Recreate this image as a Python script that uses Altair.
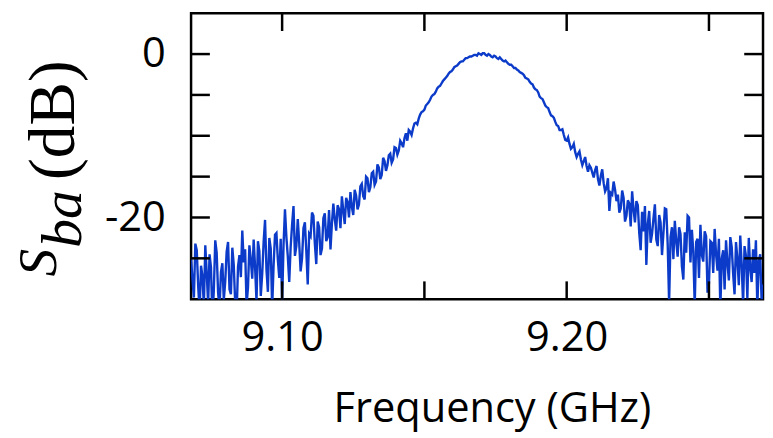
import altair as alt
import pandas as pd

# Measured S_ba (dB), sweep grid 9.068 GHz .. 9.269 GHz in 0.5 MHz steps
sba = [
    -25.1, -27.6, -29.8, -23.2, -24.0, -28.4, -31.5, -25.9, -27.2, -30.9, -23.4, -26.8, -30.6, -24.5, -26.1, -32.5, -28.9, -22.8, -24.3, -29.2,
    -31.2, -26.7, -25.6, -30.1, -27.9, -24.2, -23.0, -28.8, -29.4, -23.7, -25.8, -30.4, -32.0, -26.0, -24.6, -27.3, -21.6, -25.5, -23.9, -30.7,
    -28.6, -23.4, -25.2, -27.5, -22.7, -26.1, -30.3, -22.9, -24.1, -29.6, -26.9, -23.0, -20.3, -26.4, -29.1, -22.5, -23.8, -31.1, -25.9, -22.1,
    -21.9, -25.2, -27.4, -22.6, -30.5, -23.3, -19.0, -22.4, -24.8, -27.9, -23.6, -20.9, -18.6, -24.7, -23.5, -20.2, -23.1, -26.6, -25.0, -21.3,
    -20.6, -24.1, -28.2, -22.0, -22.3, -19.4, -19.8, -23.2, -25.7, -20.5, -21.2, -24.6, -23.8, -20.1, -19.5, -22.9, -22.4, -19.1, -23.9, -20.7,
    -18.3, -20.2, -21.6, -18.5, -19.0, -21.3, -17.4, -19.2, -20.8, -17.6, -18.1, -20.0, -16.9, -18.7, -19.7, -16.6, -17.3, -19.0, -18.4, -16.2,
    -15.9, -17.4, -17.8, -15.0, -15.2, -16.9, -16.3, -14.6, -14.4, -16.0, -15.6, -13.5, -13.9, -15.3, -14.8, -12.7, -13.1, -14.3, -13.6, -12.4,
    -12.2, -13.3, -12.9, -11.4, -11.5, -12.3, -11.8, -10.6, -10.9, -11.4, -10.3, -9.7, -10.6, -9.3, -9.5, -9.9, -9.1, -8.5, -8.4, -8.6,
    -7.9, -7.4, -7.1, -7.0, -6.8, -6.3, -6.1, -5.9, -5.6, -5.2, -5.0, -4.9, -4.6, -4.2, -4.0, -3.9, -3.6, -3.3, -3.1, -2.9,
    -2.7, -2.4, -2.2, -2.1, -1.9, -1.6, -1.5, -1.4, -1.2, -1.0, -0.9, -0.9, -0.7, -0.5, -0.5, -0.4, -0.3, -0.3, -0.2, -0.1,
    -0.1, -0.2, 0.1, 0.0, -0.1, 0.1, 0.1, -0.1, -0.2, 0.0, -0.1, -0.3, -0.4, -0.2, -0.3, -0.5, -0.6, -0.4, -0.6, -0.8,
    -0.9, -0.8, -1.0, -1.2, -1.3, -1.3, -1.5, -1.7, -1.7, -1.9, -2.0, -2.2, -2.3, -2.4, -2.6, -2.9, -3.0, -3.1, -3.4, -3.6,
    -3.7, -4.1, -4.3, -4.4, -4.7, -5.2, -5.4, -5.5, -5.9, -6.3, -6.5, -6.6, -7.1, -7.5, -7.6, -7.8, -8.3, -8.7, -8.8, -9.3,
    -9.3, -9.2, -9.9, -10.5, -10.6, -10.2, -11.0, -11.6, -11.4, -11.0, -12.0, -12.6, -12.2, -11.9, -12.9, -13.6, -13.1, -12.6, -13.7, -14.4,
    -13.6, -13.9, -14.5, -15.1, -14.2, -13.7, -15.3, -16.1, -14.9, -14.1, -15.8, -16.8, -16.4, -15.2, -19.2, -17.0, -17.2, -15.6, -16.6, -18.0,
    -17.2, -19.4, -18.9, -16.7, -17.6, -20.5, -19.8, -17.9, -18.3, -21.1, -16.8, -19.0, -20.6, -18.0, -18.5, -21.9, -24.0, -19.3, -21.7, -18.6,
    -25.8, -20.8, -19.2, -23.1, -22.0, -20.1, -18.4, -22.7, -23.5, -19.7, -20.6, -24.6, -21.9, -18.9, -19.0, -23.3, -30.5, -22.4, -21.2, -25.1,
    -20.4, -22.9, -24.8, -21.2, -22.0, -26.0, -27.6, -21.8, -24.3, -19.8, -20.0, -25.5, -21.5, -24.2, -30.8, -23.0, -22.6, -27.4, -20.9, -24.6,
    -25.4, -21.7, -22.3, -29.2, -28.1, -22.9, -23.1, -26.8, -21.4, -24.5, -26.5, -22.6, -31.2, -25.0, -24.0, -28.8, -22.8, -25.6, -27.7, -22.4,
    -23.6, -26.9, -29.4, -23.0, -25.1, -28.3, -22.2, -25.8, -30.6, -23.5, -24.7, -29.9, -22.5, -26.2, -27.9, -23.9, -26.8, -22.8, -31.0, -25.3,
    -24.5, -30.2, -28.2,
]
freq = [round(9.068 + 0.0005 * i, 4) for i in range(len(sba))]

x_ticks = [9.10, 9.15, 9.20, 9.25]
x_labels = [9.10, 9.20]
y_ticks = [0, -5, -10, -15, -20, -25]
y_labels = [0, -20]

W, H = 578, 289
xs = alt.Scale(domain=[9.068, 9.269], nice=False, zero=False)
ys = alt.Scale(domain=[-30, 5], nice=False, zero=False)

xaxis = alt.Axis(
    values=x_labels, format=".2f", ticks=False, domain=False, grid=False,
    labelFont="Open Sans", labelFontSize=42, labelColor="black", labelPadding=19,
    title="Frequency (GHz)", titleFont="Open Sans", titleFontSize=42,
    titleFontWeight="normal", titleColor="black", titleX=304, titleY=124,
    titleBaseline="alphabetic", titleAlign="center")
yaxis = alt.Axis(
    values=y_labels, labelExpr="'' + datum.value", ticks=False, domain=False,
    grid=False, labelFont="Open Sans", labelFontSize=42, labelColor="black",
    labelPadding=26, title=None)

df = pd.DataFrame({"freq": freq, "sba": sba})
dfx = pd.DataFrame({"freq": x_ticks})
dfy = pd.DataFrame({"sba": y_ticks})

line = alt.Chart(df).mark_line(color="#0b3bc8", strokeWidth=2.4, clip=True).encode(
    x=alt.X("freq:Q", scale=xs, axis=xaxis),
    y=alt.Y("sba:Q", scale=ys, axis=yaxis),
)

tick_style = dict(color="black", strokeWidth=2.5)
bot = alt.Chart(dfx).mark_rule(**tick_style).encode(
    x=alt.X("freq:Q", scale=xs, axis=xaxis), y=alt.value(H), y2=alt.value(H - 18))
top = alt.Chart(dfx).mark_rule(**tick_style).encode(
    x=alt.X("freq:Q", scale=xs, axis=xaxis), y=alt.value(0), y2=alt.value(18))
left = alt.Chart(dfy).mark_rule(**tick_style).encode(
    y=alt.Y("sba:Q", scale=ys, axis=yaxis), x=alt.value(0), x2=alt.value(19))
right = alt.Chart(dfy).mark_rule(**tick_style).encode(
    y=alt.Y("sba:Q", scale=ys, axis=yaxis), x=alt.value(W), x2=alt.value(W - 19))

t_s = alt.Chart(pd.DataFrame({"t": ["S"]})).mark_text(
    font="Liberation Serif", fontStyle="italic", fontSize=56, angle=270,
    align="center", baseline="alphabetic", color="black").encode(
    text="t:N", x=alt.value(-136), y=alt.value(252))
t_ba = alt.Chart(pd.DataFrame({"t": ["ba"]})).mark_text(
    font="Liberation Serif", fontStyle="italic", fontSize=58, angle=270,
    align="center", baseline="alphabetic", color="black").encode(
    text="t:N", x=alt.value(-111), y=alt.value(208))
t_db = alt.Chart(pd.DataFrame({"t": ["(dB)"]})).mark_text(
    font="Liberation Serif", fontSize=66, angle=270,
    align="center", baseline="alphabetic", color="black").encode(
    text="t:N", x=alt.value(-118), y=alt.value(108))

chart = alt.layer(line, bot, top, left, right, t_s, t_ba, t_db).properties(
    width=W, height=H,
    padding={"left": 185, "top": 3, "right": 2, "bottom": 138},
    autosize=alt.AutoSizeParams(type="none"),
).configure_view(stroke="black", strokeWidth=2.5)

chart.save("out.html", embed_options={"renderer": "svg", "actions": False})
